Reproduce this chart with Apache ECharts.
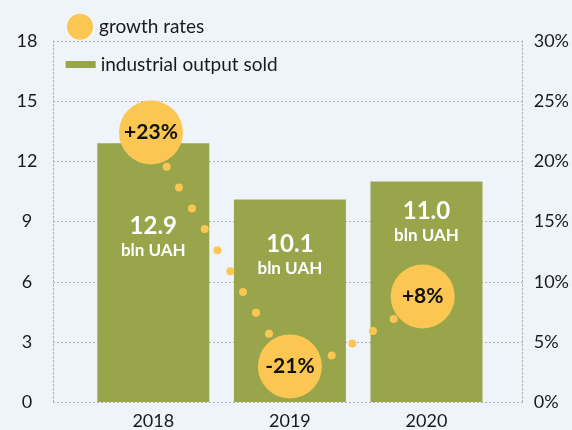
<!DOCTYPE html>
<html>
<head>
<meta charset="utf-8">
<script src="https://cdn.jsdelivr.net/npm/echarts@6/dist/echarts.min.js"></script>
<style>
html,body{margin:0;padding:0;background:#eff4fb;}
#c{width:572px;height:430px;}
</style>
</head>
<body>
<div id="c"></div>
<script>
// ---- data ----
const years = ['2018', '2019', '2020'];
const outputSold = [12.9, 10.1, 11.0];              // bln UAH
const growthLabels = ['+23%', '-21%', '+8%'];
const growthX = [-0.017, 1.0, 1.972];                // position along years (index units)
const growthY = [22.4, 2.96, 8.77];                  // position on right % axis
const connectorX = [0.098, 0.188, 0.283, 0.376, 0.470, 0.564, 0.657, 0.752, 0.847, 1.306, 1.457, 1.608, 1.760];
const connectorY = [19.54, 17.82, 16.08, 14.37, 12.61, 10.86, 9.14, 7.42, 5.67, 3.87, 4.87, 5.90, 6.89];
const leftTicks = [0, 3, 6, 9, 12, 15, 18];
const rightTicks = [0, 5, 10, 15, 20, 25, 30];
const labelOffsets = [71, 33, 18];

const FONT = 'Lato';
const OLIVE = '#99a54a';
const YELLOW = '#fcc653';
const GRID_LINE = {type: [2, 2], color: '#b0b4b9', width: 1};

const chart = echarts.init(document.getElementById('c'), null, {renderer: 'canvas'});

const barData = outputSold.map((v, i) => ({
  value: v,
  label: {distance: labelOffsets[i]}
}));

const option = {
  backgroundColor: '#eff4fb',
  animation: false,
  textStyle: {fontFamily: FONT},
  legend: [
    {
      data: [{name: 'growth rates', icon: 'circle'}],
      left: 62, top: 8.7,
      itemWidth: 26, itemHeight: 26,
      textStyle: {fontFamily: FONT, fontSize: 19, color: '#1a1a1a', padding: [0, 0, 0, 1]},
      selectedMode: false
    },
    {
      data: [{name: 'industrial output sold', icon: 'rect'}],
      left: 60.7, top: 49.5,
      itemWidth: 30, itemHeight: 7,
      textStyle: {fontFamily: FONT, fontSize: 19, color: '#1a1a1a', lineHeight: 20, padding: [0, 0, 0, 0]},
      selectedMode: false
    }
  ],
  grid: [
    {left: 53, right: 47, top: 41, bottom: 27.7},
    {left: 85, width: 409.8, top: 41, bottom: 27.7}
  ],
  xAxis: [
    {gridIndex: 0, type: 'value', min: 0, max: 1, show: false},
    {
      gridIndex: 1, type: 'category', data: years,
      axisLine: {show: false}, axisTick: {show: false},
      axisLabel: {fontFamily: FONT, fontSize: 18, color: '#1a1a1a', margin: 10}
    },
    {gridIndex: 1, type: 'value', min: -0.5, max: 2.5, show: false}
  ],
  yAxis: [
    {
      gridIndex: 0, type: 'value', position: 'left',
      min: leftTicks[0], max: leftTicks[leftTicks.length - 1], interval: 3,
      axisLine: {show: true, lineStyle: GRID_LINE},
      axisTick: {show: false},
      axisLabel: {fontFamily: FONT, fontSize: 18, color: '#1a1a1a', align: 'center', margin: 26},
      splitLine: {show: true, lineStyle: GRID_LINE}
    },
    {
      gridIndex: 0, type: 'value', position: 'right',
      min: rightTicks[0], max: rightTicks[rightTicks.length - 1], interval: 5,
      axisLine: {show: true, lineStyle: GRID_LINE},
      axisTick: {show: false},
      axisLabel: {fontFamily: FONT, fontSize: 18, color: '#1a1a1a', align: 'left', margin: 11,
        formatter: v => v + '%'},
      splitLine: {show: false}
    },
    {gridIndex: 1, type: 'value', min: 0, max: 18, show: false, splitLine: {show: false}},
    {gridIndex: 1, type: 'value', min: 0, max: 30, show: false, splitLine: {show: false}}
  ],
  series: [
    {
      name: 'industrial output sold',
      type: 'bar',
      xAxisIndex: 1, yAxisIndex: 2,
      barWidth: 112,
      itemStyle: {color: OLIVE},
      data: barData,
      label: {
        show: true,
        position: 'insideTop',
        formatter: p => '{v|' + p.value.toFixed(1) + '}\n{u|bln UAH}',
        rich: {
          v: {fontFamily: FONT, fontSize: 24, fontWeight: 'bold', color: '#ffffff', lineHeight: 24, align: 'center'},
          u: {fontFamily: FONT, fontSize: 17, fontWeight: 'bold', color: '#ffffff', lineHeight: 24, align: 'center'}
        }
      },
      z: 2
    },
    {
      name: 'connector',
      type: 'scatter',
      xAxisIndex: 2, yAxisIndex: 3,
      symbol: 'circle', symbolSize: 8,
      itemStyle: {color: YELLOW, opacity: 1},
      data: connectorX.map((x, i) => [x, connectorY[i]]),
      z: 3
    },
    {
      name: 'growth rates',
      type: 'scatter',
      xAxisIndex: 2, yAxisIndex: 3,
      symbol: 'circle', symbolSize: 64,
      itemStyle: {color: YELLOW, opacity: 1},
      data: growthX.map((x, i) => [x, growthY[i], growthLabels[i]]),
      label: {
        show: true, position: 'inside',
        formatter: p => p.value[2],
        fontFamily: FONT, fontSize: 21, fontWeight: 'bold', color: '#111111'
      },
      z: 4
    }
  ]
};
chart.setOption(option);
</script>
</body>
</html>
